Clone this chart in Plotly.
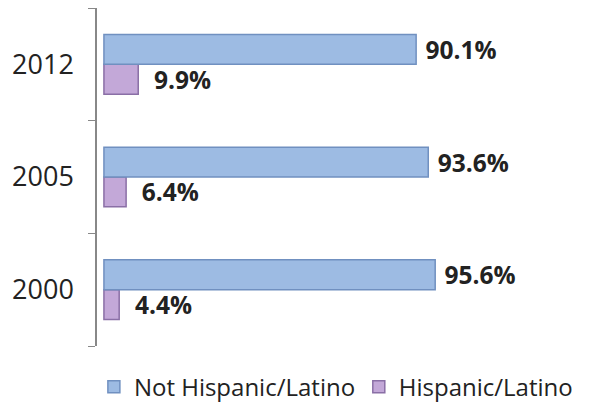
import plotly.graph_objects as go

years = ["2000", "2005", "2012"]
not_hispanic = [95.6, 93.6, 90.1]
hispanic = [4.4, 6.4, 9.9]

W, H = 598, 414
font_fam = "Open Sans, Noto Sans, sans-serif"

fig = go.Figure()
fig.add_trace(go.Bar(
    y=years, x=hispanic, orientation="h", name="Hispanic/Latino",
    marker=dict(color="#c3a8d8", line=dict(color="#8a6fa6", width=1.5)),
    texttemplate="\u00a0\u00a0%{x:.1f}%", textposition="outside",
    textfont=dict(size=24.5, color="#222222", family=font_fam, weight="bold"),
    constraintext="none", cliponaxis=False, legend="legend2",
))
fig.add_trace(go.Bar(
    y=years, x=not_hispanic, orientation="h", name="Not Hispanic/Latino",
    marker=dict(color="#9dbbe3", line=dict(color="#7090c0", width=1.5)),
    texttemplate="\u00a0%{x:.1f}%", textposition="outside",
    textfont=dict(size=24.5, color="#222222", family=font_fam, weight="bold"),
    constraintext="none", cliponaxis=False, legend="legend",
))

leg_common = dict(
    orientation="h", xref="container", yref="container",
    xanchor="left", y=0.065, yanchor="middle",
    font=dict(size=24, color="#222222"), itemwidth=30,
    bgcolor="rgba(0,0,0,0)",
)

fig.update_layout(
    width=W, height=H,
    margin=dict(l=97, r=10, t=8, b=68, autoexpand=False),
    paper_bgcolor="white", plot_bgcolor="white",
    barmode="group", bargap=0.47, bargroupgap=0.0,
    font=dict(family=font_fam, color="#222222"),
    xaxis=dict(range=[-2, 139.7], visible=False, showgrid=False, zeroline=False,
               automargin=False),
    yaxis=dict(
        type="category", categoryorder="array", categoryarray=years,
        showline=True, linecolor="#888888", linewidth=1.5,
        ticks="outside", tickson="boundaries", ticklen=7, tickcolor="#888888",
        tickfont=dict(size=27, color="#222222"), ticklabelstandoff=16,
        showgrid=False, automargin=False,
    ),
    legend=dict(x=0.157, **leg_common),
    legend2=dict(x=0.600, **leg_common),
    showlegend=True,
)

fig.write_html("out.html", config={"displayModeBar": False},
               post_script="document.body.style.margin='0px';")
